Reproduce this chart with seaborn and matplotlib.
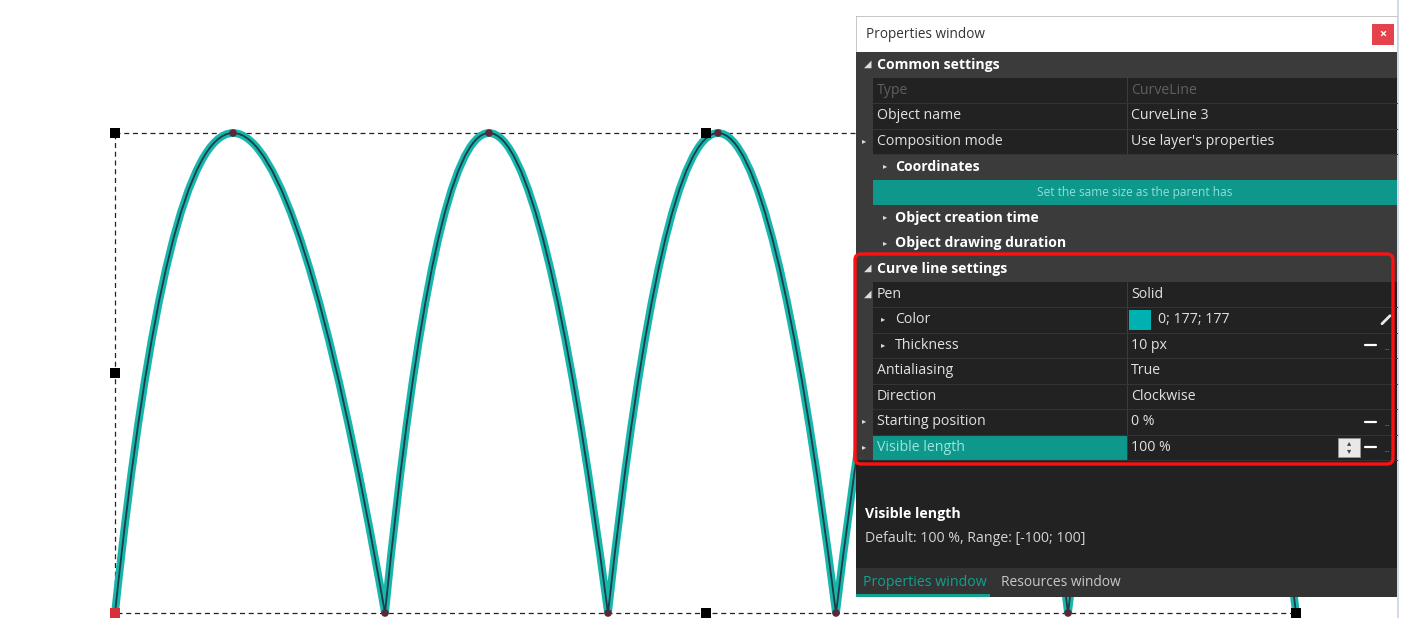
import matplotlib
matplotlib.use("Agg")
import matplotlib.pyplot as plt
import seaborn as sns
from matplotlib.patches import Rectangle, FancyBboxPatch, PathPatch
from matplotlib.path import Path

sns.set_theme(style="white")
plt.rcParams["font.family"] = ["Open Sans", "DejaVu Sans"]

# curve data (canvas pixels)
cusp_x = [115, 385, 608, 836, 1068, 1296]
peak_x = [233, 489, 718, 952, 1182]
curve_top = 133
curve_bottom = 613
handle_x = [115, 706, 115, 706, 1296]
handle_y = [133, 133, 373, 613, 613]

# property grid rows: (label, value, kind)
row_labels = ["Common settings", "Type", "Object name", "Composition mode", "Coordinates",
              "Set the same size as the parent has", "Object creation time",
              "Object drawing duration", "Curve line settings", "Pen", "Color", "Thickness",
              "Antialiasing", "Direction", "Starting position", "Visible length"]
row_values = ["", "CurveLine", "CurveLine 3", "Use layer's properties", "", "", "", "",
              "", "Solid", "0; 177; 177", "10 px", "True", "Clockwise", "0 %", "100 %"]
row_kinds = ["header", "dim", "prop", "prop", "group", "button", "group", "group",
             "header", "prop", "sub", "sub", "prop", "prop", "prop", "active"]
row_marks = ["\u25e2", "", "", "\u25b8", "", "", "", "", "\u25e2", "\u25e2", "", "", "", "", "\u25b8", "\u25b8"]

TEAL = "#00b1b1"
PANEL = "#3b3b3b"
CELL = "#222222"
FS = 10.2

fig = plt.figure(figsize=(14.05, 6.18), dpi=100)
ax = fig.add_axes([0, 0, 1, 1])
ax.set_xlim(0, 1405)
ax.set_ylim(618, 0)
ax.axis("off")

# bounding box of the curve object
ax.add_patch(Rectangle((cusp_x[0], curve_top), cusp_x[-1] - cusp_x[0], curve_bottom - curve_top,
                       fill=False, ec="#222222", lw=0.9, ls=(0, (4, 3)), zorder=1))

# the arches as quadratic bezier segments
verts, codes = [], []
for i, px in enumerate(peak_x):
    x0, x1 = cusp_x[i], cusp_x[i + 1]
    verts += [(x0, curve_bottom), (2 * px - (x0 + x1) / 2, 2 * curve_top - curve_bottom), (x1, curve_bottom)]
    codes += [Path.MOVETO, Path.CURVE3, Path.CURVE3]
path = Path(verts, codes)
ax.add_patch(PathPatch(path, fill=False, ec="#16b6ad", lw=5.6, capstyle="butt", zorder=2))
ax.add_patch(PathPatch(path, fill=False, ec="#1f3b44", lw=1.3, zorder=3))

# nodes and handles
sns.scatterplot(x=peak_x + cusp_x, y=[curve_top] * len(peak_x) + [curve_bottom] * len(cusp_x),
                ax=ax, s=30, color="#5a2838", edgecolor="none", zorder=4)
sns.scatterplot(x=handle_x, y=handle_y, ax=ax, marker="s", s=55, color="black",
                edgecolor="none", zorder=5)
sns.scatterplot(x=[cusp_x[0]], y=[curve_bottom], ax=ax, marker="s", s=55, color="#d8303a",
                edgecolor="none", zorder=5)

# ---- properties window ----
L, R = 856, 1397
ax.add_patch(Rectangle((L, 16), R - L, 597 - 16, fc=PANEL, ec="none", zorder=10))
ax.add_patch(Rectangle((L, 16), R - L, 36, fc="white", ec="#d0d0d0", lw=0.6, zorder=11))
ax.text(866, 34, "Properties window", fontsize=9.8, color="#333333", va="center", zorder=12)
ax.add_patch(Rectangle((1372, 24), 22, 21, fc="#e5434b", ec="none", zorder=12))
ax.text(1383, 34.5, "\u00d7", fontsize=9, color="white", ha="center", va="center",
        fontweight="bold", zorder=13)
ax.plot([1398, 1398], [0, 618], color="#c9d3e6", lw=1.2, zorder=12)

row_h = 25.5
y0 = 52
gutter = 873
divider = 1127
for i, (lab, val, kind, mk) in enumerate(zip(row_labels, row_values, row_kinds, row_marks)):
    top = y0 + i * row_h
    yc = top + row_h / 2
    if kind in ("header", "group"):
        ax.add_patch(Rectangle((L, top), R - L, row_h, fc=PANEL, ec="none", zorder=11))
        tx = 877 if kind == "header" else 895
        ax.text(tx, yc, lab, fontsize=10.1, color="white", fontweight="bold", va="center", zorder=12)
        if kind == "header":
            ax.text(864, yc, mk, fontsize=7, color="#dddddd", va="center", zorder=12)
        else:
            ax.text(883, yc, "\u25b8", fontsize=6, color="#dddddd", va="center", zorder=12)
        continue
    if kind == "button":
        ax.add_patch(Rectangle((gutter, top), R - gutter, row_h, fc="#0e978b", ec="none", zorder=11))
        ax.text((gutter + R) / 2, yc, lab, fontsize=8.6, color="#8fe0d6", ha="center", va="center", zorder=12)
        continue
    ax.add_patch(Rectangle((gutter, top), divider - gutter, row_h,
                           fc="#0e978b" if kind == "active" else CELL, ec="none", zorder=11))
    ax.add_patch(Rectangle((divider + 1, top), R - divider - 1, row_h, fc=CELL, ec="none", zorder=11))
    ax.plot([gutter, R], [top + row_h, top + row_h], color="#343434", lw=0.8, zorder=12)
    lab_color = {"dim": "#5f5f5f", "active": "#9be6dc"}.get(kind, "#e2e2e2")
    val_color = "#5f5f5f" if kind == "dim" else "#e2e2e2"
    lx = 895 if kind == "sub" else 877
    if kind == "sub":
        ax.text(881, yc, "\u25b8", fontsize=6, color="#dddddd", va="center", zorder=12)
    if mk:
        ax.text(862 if mk == "\u25b8" else 864, yc, mk, fontsize=6 if mk == "\u25b8" else 7,
                color="#dddddd", va="center", zorder=12)
    ax.text(lx, yc, lab, fontsize=FS, color=lab_color, va="center", zorder=12)
    vx = 1131
    if lab == "Color":
        ax.add_patch(Rectangle((1129, top + 3), 22, row_h - 6, fc=TEAL, ec="none", zorder=12))
        vx = 1158
        ax.plot([1382, 1390], [yc + 4, yc - 4], color="#e8e8e8", lw=2, zorder=12)
    ax.text(vx, yc, val, fontsize=FS, color=val_color, va="center", zorder=12)
    if lab in ("Thickness", "Starting position", "Visible length"):
        ax.plot([1365, 1376], [yc, yc], color="white", lw=1.6, zorder=12)
        ax.text(1384, yc + 3, "...", fontsize=5, color="#aaaaaa", va="center", zorder=12)
    if lab == "Visible length":
        ax.add_patch(Rectangle((1338, top + 3), 22, row_h - 6, fc="#e8e8e8", ec="#999999",
                               lw=0.5, zorder=12))
        ax.text(1349, yc - 4, "\u25b4", fontsize=6, color="#444444", ha="center", va="center", zorder=13)
        ax.text(1349, yc + 4, "\u25be", fontsize=6, color="#444444", ha="center", va="center", zorder=13)

# description area and tabs
ax.add_patch(Rectangle((L, 460), R - L, 108, fc=CELL, ec="none", zorder=11))
ax.text(865, 514, "Visible length", fontsize=FS, color="white", fontweight="bold", va="center", zorder=12)
ax.text(865, 538, "Default: 100 %, Range: [-100; 100]", fontsize=FS, color="#d4d4d4",
        va="center", zorder=12)
ax.add_patch(Rectangle((L, 568), R - L, 29, fc="#333333", ec="none", zorder=11))
ax.add_patch(Rectangle((L, 594), 134, 3, fc="#12a08f", ec="none", zorder=12))
ax.text(863, 583, "Properties window", fontsize=FS, color="#13a08e", va="center", zorder=12)
ax.text(1001, 583, "Resources window", fontsize=9.9, color="#c8c8c8", va="center", zorder=12)

# highlight frame
ax.add_patch(FancyBboxPatch((855, 254), 538, 210, boxstyle="round,pad=0,rounding_size=6",
                            fill=False, ec="#ff1010", lw=2.4, zorder=14))

fig.savefig("out.png", dpi=100)
